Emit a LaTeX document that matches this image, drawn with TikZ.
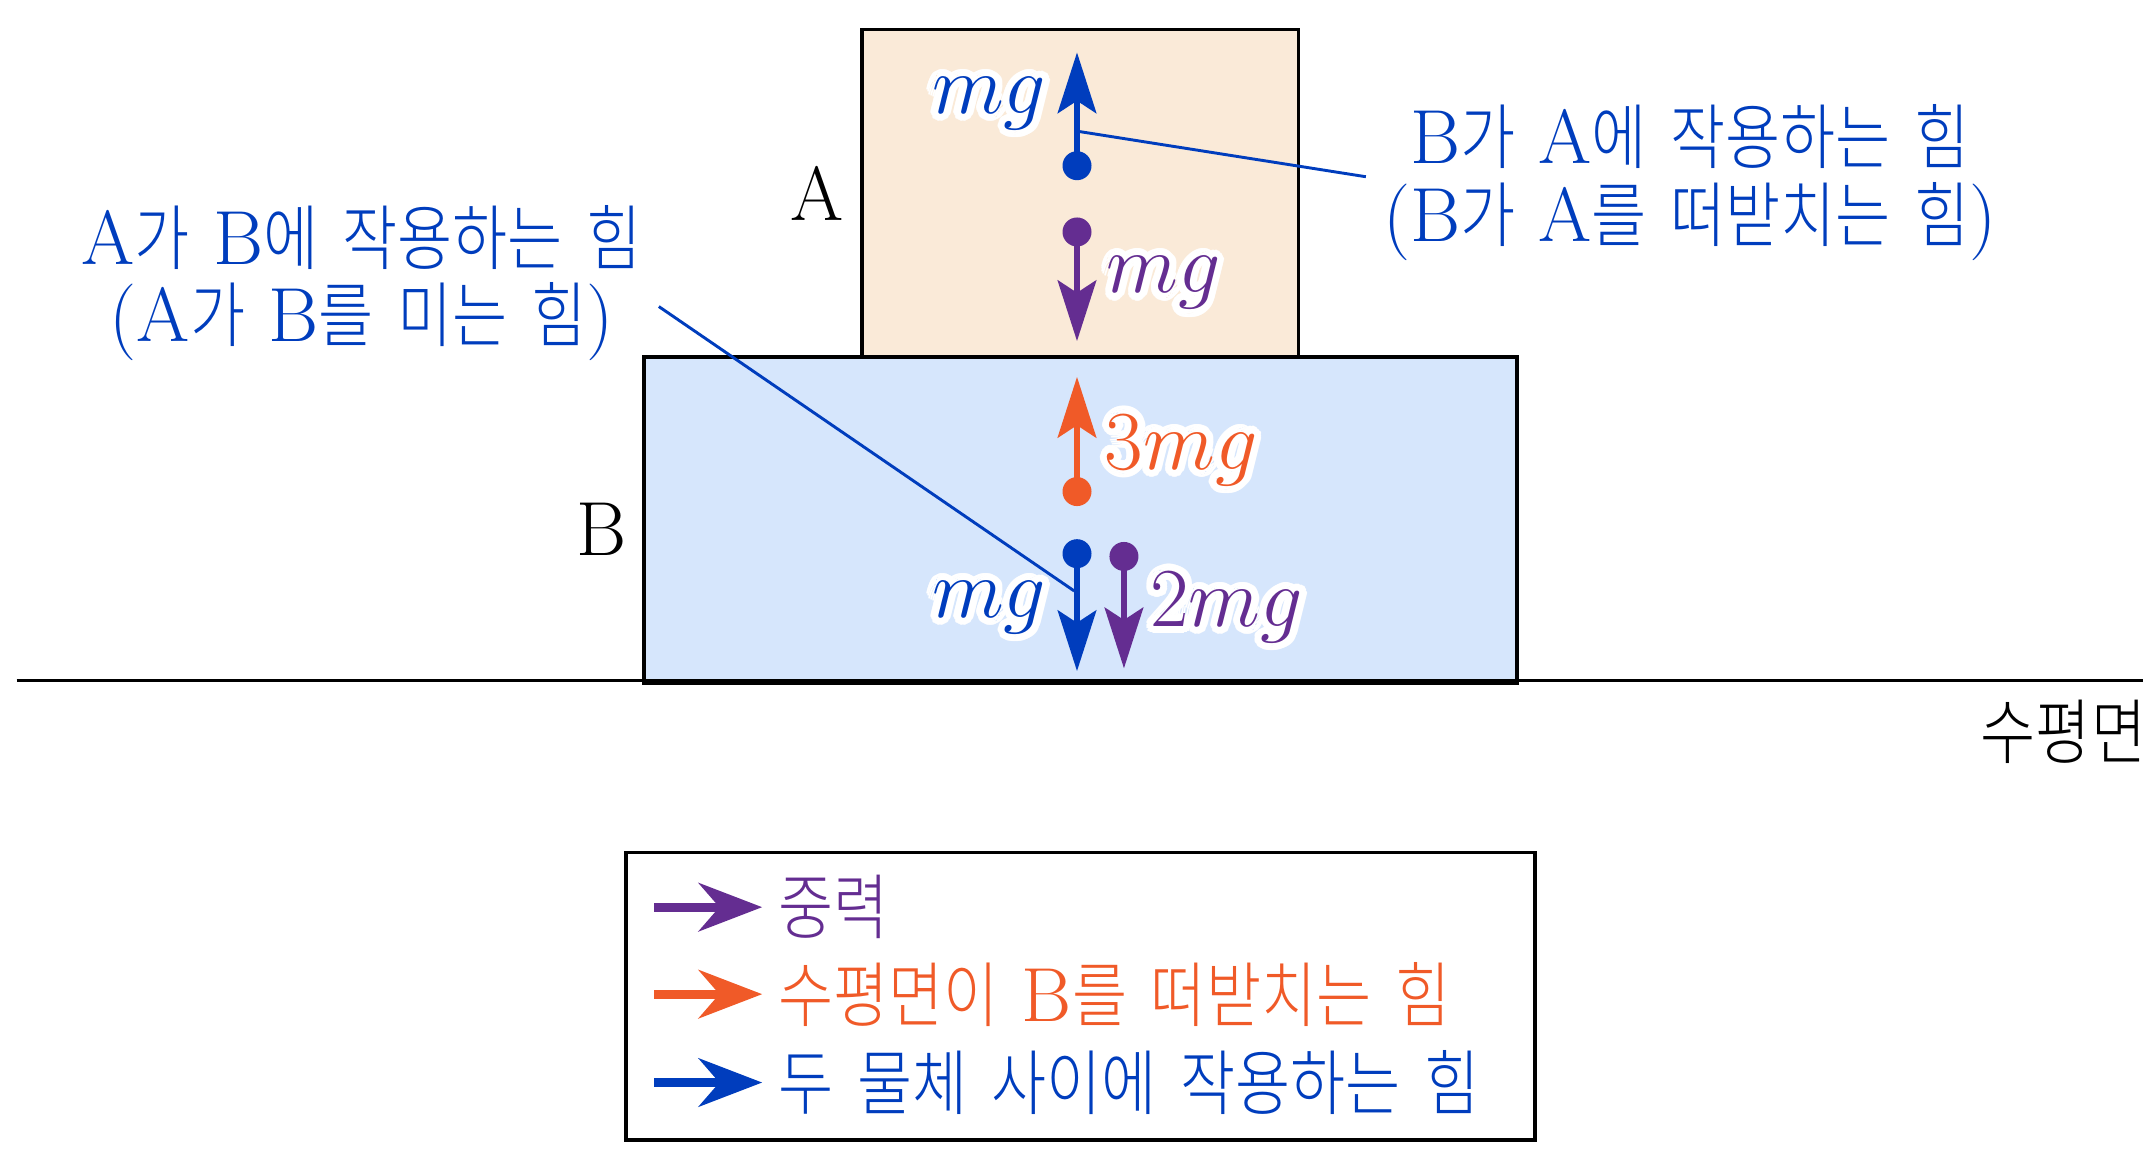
\documentclass[tikz,border=0pt]{standalone}
\usepackage{amsmath}
\usepackage{fontspec}
\usepackage{tikz}
\usetikzlibrary{arrows.meta,positioning}
\newfontfamily\krfont[Scale=0.93,FakeStretch=0.84,WordSpace=1.8]{Noto Sans CJK KR Light}
\newcommand{\kt}[1]{{\krfont #1}}
\definecolor{fblue}{RGB}{0,61,189}
\definecolor{fpurple}{RGB}{100,45,145}
\definecolor{forange}{RGB}{240,90,40}
\definecolor{fillA}{RGB}{250,234,216}
\definecolor{fillB}{RGB}{214,230,252}
% label with a white rim: name, position, anchor, colour, text
\newcommand{\halo}[5]{%
  \foreach \haloang in {0,20,...,340}
    \node[mglabel,text=white,anchor=#3,shift={(\haloang:1.5pt)}] at (#2) {#5};
  \node[mglabel,text=#4,anchor=#3] (#1) at (#2) {#5};}

\begin{document}
\begin{tikzpicture}[x=0.1mm,y=-0.1mm,
    every node/.style={font=\fontsize{15.8}{16}\selectfont},
    block/.style={draw=black,line width=0.8pt,anchor=north west,inner sep=0pt},
    force/.style={line width=1.1pt,-{Stealth[length=4.4mm,width=2.8mm,inset=0.9mm]}},
    dot/.style={circle,inner sep=0pt,minimum size=2.1mm},
    mglabel/.style={inner sep=1pt,font=\fontsize{16}{16}\selectfont},
    note/.style={text=fblue,align=center},
    pointer/.style={fblue,line width=0.6pt},
    key/.style={line width=1.8pt,-{Stealth[length=4.6mm,width=3.5mm,inset=1.5mm]}},
    keytext/.style={anchor=west,inner sep=0pt}]
    \useasboundingbox (0,0) rectangle (1560,842);

    % blocks and floor
    \node[block,fill=fillB,minimum width=63.2mm,minimum height=23.6mm] (boxB) at (465,257) {};
    \node[block,fill=fillA,minimum width=31.6mm,minimum height=23.7mm] (boxA) at (623,20) {};
    \node (labA) at (592,140) {A};
    \node (labB) at (436,383) {B};
    \coordinate (g0) at (12,493);
    \coordinate (g1) at (1552,493);
    \draw[line width=0.7pt] (g0) -- (g1);
    \node[anchor=east,inner sep=0pt] (floor) at (1555,530) {\kt{수평면}};

    % forces
    \node[dot,fill=fblue] (dA1) at (780,120) {};
    \coordinate (tA1) at (780,38);
    \draw[force,fblue] (dA1.center) -- (tA1);
    \node[dot,fill=fpurple] (dA2) at (780,168) {};
    \coordinate (tA2) at (780,247);
    \draw[force,fpurple] (dA2.center) -- (tA2);
    \node[dot,fill=forange] (dB1) at (780,356) {};
    \coordinate (tB1) at (780,273);
    \draw[force,forange] (dB1.center) -- (tB1);
    \node[dot,fill=fblue] (dB2) at (780,401) {};
    \coordinate (tB2) at (780,486);
    \draw[force,fblue] (dB2.center) -- (tB2);
    \node[dot,fill=fpurple] (dB3) at (814,403) {};
    \coordinate (tB3) at (814,484);
    \draw[force,fpurple] (dB3.center) -- (tB3);

    \halo{mA1}{762,75}{east}{fblue}{$mg$}
    \halo{mA2}{797,205}{west}{fpurple}{$mg$}
    \halo{mB1}{796,326}{west}{forange}{$3mg$}
    \halo{mB2}{762,440}{east}{fblue}{$mg$}
    \halo{mB3}{829,440}{west}{fpurple}{$2mg$}

    % notes
    \node[note] (noteR) at (1224,132) {B\kt{가} A\kt{에 작용하는 힘}\\(B\kt{가} A\kt{를 떠받치는 힘})};
    \coordinate (pR) at (780,95);
    \draw[pointer] (pR) -- ([yshift=0.4mm]noteR.west);
    \node[note] (noteL) at (262,205) {A\kt{가} B\kt{에 작용하는 힘}\\(A\kt{가} B\kt{를 미는 힘})};
    \coordinate (pL) at (778,428);
    \draw[pointer] ([yshift=-1.7mm]noteL.east) -- (pL);

    % legend
    \node[block,minimum width=65.8mm,minimum height=20.8mm] (legend) at (452,616) {};
    \node[keytext,text=fpurple] (t1) at (563,657) {\kt{중력}};
    \node[keytext,text=forange] (t2) at (563,720) {\kt{수평면이} B\kt{를 떠받치는 힘}};
    \node[keytext,text=fblue] (t3) at (563,784) {\kt{두 물체 사이에 작용하는 힘}};
    \draw[key,fpurple] ([xshift=-8.9mm]t1.west) -- ([xshift=-1.1mm]t1.west);
    \draw[key,forange] ([xshift=-8.9mm]t2.west) -- ([xshift=-1.1mm]t2.west);
    \draw[key,fblue] ([xshift=-8.9mm]t3.west) -- ([xshift=-1.1mm]t3.west);
\end{tikzpicture}
\end{document}
